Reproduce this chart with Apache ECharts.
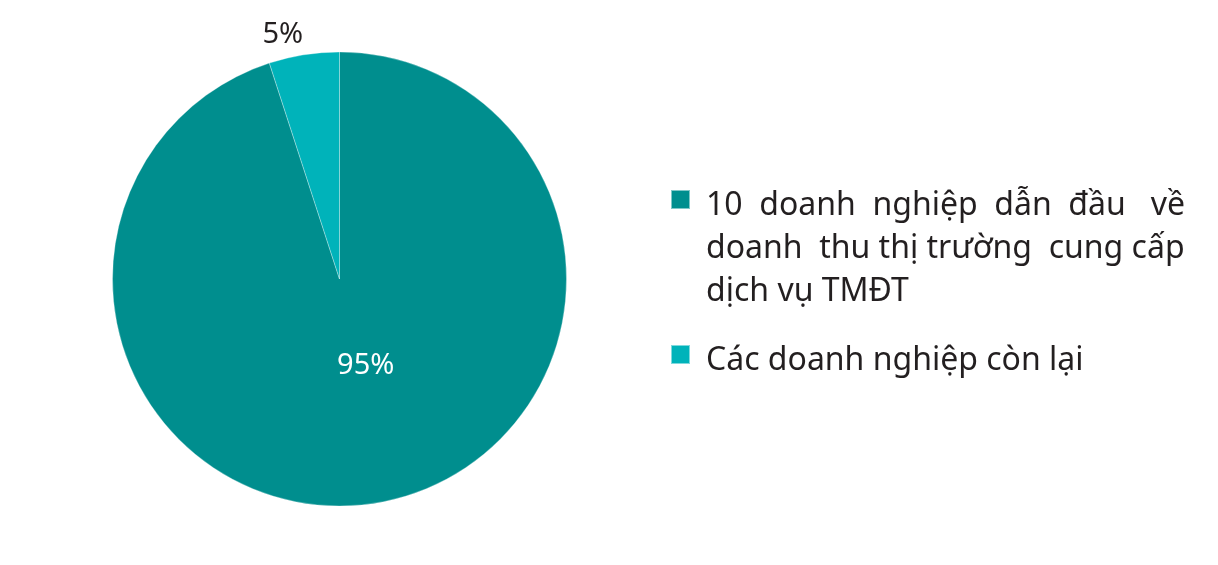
<!DOCTYPE html>
<html><head><meta charset="utf-8">
<script src="https://cdn.jsdelivr.net/npm/echarts@6/dist/echarts.min.js"></script>
<style>html,body{margin:0;padding:0;background:#fff}#c{width:1218px;height:565px}</style>
</head><body><div id="c"></div>
<script>
const categories = [
  '10 doanh nghiệp dẫn đầu về doanh thu thị trường cung cấp dịch vụ TMĐT',
  'Các doanh nghiệp còn lại'
];
const legendLines = [
  ['10  doanh  nghiệp  dẫn  đầu   về', 'doanh  thu thị trường  cung cấp', 'dịch vụ TMĐT'],
  ['Các doanh nghiệp còn lại']
];
const values = [95, 5];
const colors = ['#008e8e', '#00b3ba'];

const chart = echarts.init(document.getElementById('c'));
const font = 'Noto Sans';
const LH = 43;
const SHIFT = 6;
function legendFor(i, iconTop) {
  const lines = legendLines[i];
  const k = lines.length;
  const T = 2 * (SHIFT - LH / 2 + k * LH / 2);
  const H = T + k * LH;
  return {
    orient: 'vertical', left: 670, top: iconTop - (H / 2 - 9.5), padding: 0,
    itemWidth: 19, itemHeight: 19, icon: 'rect', itemGap: 0,
    data: [categories[i]],
    selectedMode: false,
    formatter: () => ['{s| }'].concat(lines.map(l => '{t|' + l + '}')).join('\n'),
    textStyle: {
      fontFamily: font, fontSize: 32, color: '#231f20', lineHeight: LH, padding: [0, 0, 0, 11],
      rich: {
        s: { fontSize: 10, lineHeight: T, height: T },
        t: { fontFamily: font, fontSize: 32, color: '#231f20', lineHeight: LH }
      }
    }
  };
}
chart.setOption({
  color: colors,
  legend: [legendFor(0, 190), legendFor(1, 345)],
  series: [{
    type: 'pie',
    center: [339.5, 279],
    radius: 227,
    startAngle: 90,
    clockwise: true,
    animation: false,
    itemStyle: { borderColor: 'rgba(255,255,255,0.5)', borderWidth: 0.6 },
    labelLine: { show: false, length: 18, length2: 0 },
    data: categories.map((n, i) => ({
      name: n, value: values[i],
      label: i === 0
        ? { position: 'inside', color: '#ffffff', offset: [8, -28] }
        : { position: 'outside', color: '#231f20', offset: [7, -2] }
    })),
    label: {
      formatter: '{c}%', fontFamily: font, fontSize: 29
    }
  }]
});
</script></body></html>
